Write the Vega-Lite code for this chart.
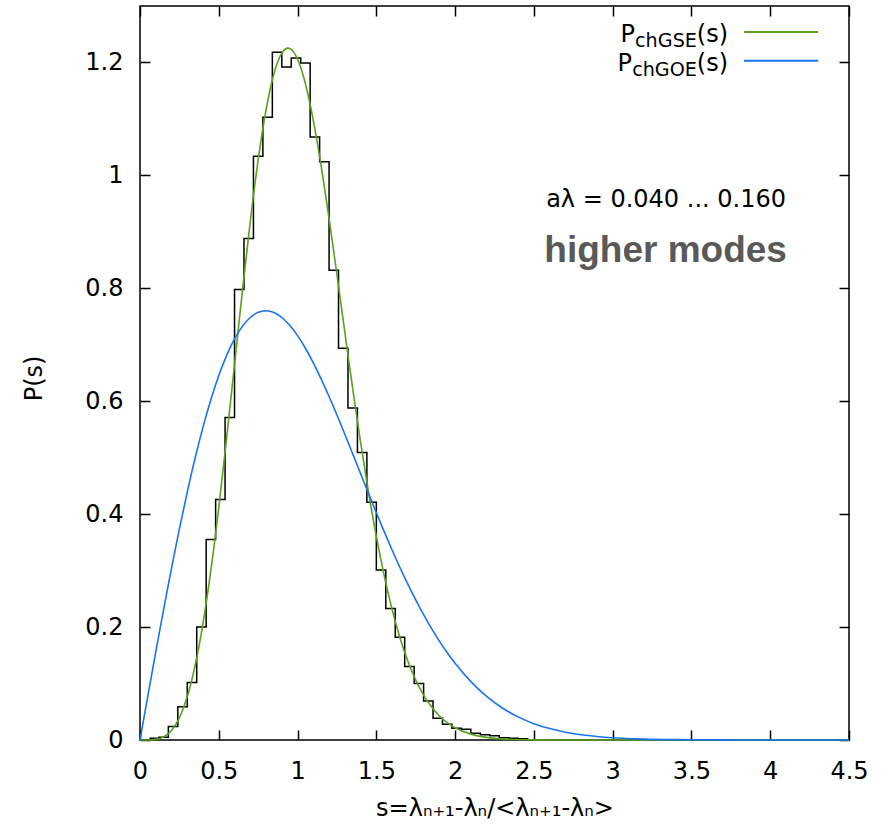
{
  "$schema": "https://vega.github.io/schema/vega-lite/v6.json",
  "width": 709,
  "height": 734,
  "autosize": "none",
  "padding": {"left": 140, "top": 6, "right": 41, "bottom": 89},
  "background": "white",
  "config": {
    "view": {"stroke": "#000", "strokeWidth": 1.5},
    "font": "DejaVu Sans",
    "axis": {
      "domain": false, "grid": false,
      "tickColor": "#000", "tickWidth": 1.5, "tickSize": -10,
      "labelFont": "DejaVu Sans", "labelFontSize": 24, "labelColor": "#000",
      "titleFont": "DejaVu Sans", "titleFontSize": 24, "titleFontWeight": "normal", "titleColor": "#000",
      "labelFlush": false, "labelOverlap": false, "labelBound": false
    }
  },
  "datasets": {
    "one": [{}],
    "hist": [
      {"s": 0.06, "p": 0.003}, {"s": 0.12, "p": 0.005}, {"s": 0.18, "p": 0.024}, {"s": 0.24, "p": 0.059},
      {"s": 0.30, "p": 0.102}, {"s": 0.36, "p": 0.200}, {"s": 0.42, "p": 0.355}, {"s": 0.48, "p": 0.426},
      {"s": 0.54, "p": 0.571}, {"s": 0.60, "p": 0.798}, {"s": 0.66, "p": 0.888}, {"s": 0.72, "p": 1.034},
      {"s": 0.78, "p": 1.103}, {"s": 0.84, "p": 1.218}, {"s": 0.90, "p": 1.192}, {"s": 0.96, "p": 1.208},
      {"s": 1.02, "p": 1.199}, {"s": 1.08, "p": 1.068}, {"s": 1.14, "p": 1.024}, {"s": 1.20, "p": 0.832},
      {"s": 1.26, "p": 0.694}, {"s": 1.32, "p": 0.588}, {"s": 1.38, "p": 0.509}, {"s": 1.44, "p": 0.421},
      {"s": 1.50, "p": 0.301}, {"s": 1.56, "p": 0.233}, {"s": 1.62, "p": 0.182}, {"s": 1.68, "p": 0.130},
      {"s": 1.74, "p": 0.100}, {"s": 1.80, "p": 0.069}, {"s": 1.86, "p": 0.0385}, {"s": 1.92, "p": 0.028},
      {"s": 1.98, "p": 0.021}, {"s": 2.04, "p": 0.019}, {"s": 2.10, "p": 0.012}, {"s": 2.16, "p": 0.0095},
      {"s": 2.22, "p": 0.0077}, {"s": 2.28, "p": 0.004}, {"s": 2.34, "p": 0.003}, {"s": 2.40, "p": 0.002},
      {"s": 2.46, "p": 0}
    ],
    "gse": [
      {"s": 0, "p": 0}, {"s": 0.05, "p": 0.0001}, {"s": 0.1, "p": 0.0011}, {"s": 0.15, "p": 0.0056},
      {"s": 0.2, "p": 0.0170}, {"s": 0.25, "p": 0.0393}, {"s": 0.3, "p": 0.0766}, {"s": 0.35, "p": 0.1319},
      {"s": 0.4, "p": 0.2067}, {"s": 0.45, "p": 0.3007}, {"s": 0.5, "p": 0.4116}, {"s": 0.55, "p": 0.5351},
      {"s": 0.6, "p": 0.6654}, {"s": 0.65, "p": 0.7956}, {"s": 0.7, "p": 0.9185}, {"s": 0.75, "p": 1.0273},
      {"s": 0.8, "p": 1.1158}, {"s": 0.85, "p": 1.1799}, {"s": 0.9, "p": 1.2164}, {"s": 0.94, "p": 1.2254},
      {"s": 0.95, "p": 1.2248}, {"s": 1.0, "p": 1.2058}, {"s": 1.05, "p": 1.1623}, {"s": 1.1, "p": 1.0976},
      {"s": 1.15, "p": 1.0163}, {"s": 1.2, "p": 0.9238}, {"s": 1.25, "p": 0.8242}, {"s": 1.3, "p": 0.7223},
      {"s": 1.35, "p": 0.6223}, {"s": 1.4, "p": 0.5272}, {"s": 1.45, "p": 0.4394}, {"s": 1.5, "p": 0.3605},
      {"s": 1.55, "p": 0.2911}, {"s": 1.6, "p": 0.2314}, {"s": 1.65, "p": 0.1811}, {"s": 1.7, "p": 0.1397},
      {"s": 1.75, "p": 0.1062}, {"s": 1.8, "p": 0.0795}, {"s": 1.85, "p": 0.0587}, {"s": 1.9, "p": 0.0426},
      {"s": 1.95, "p": 0.0306}, {"s": 2.0, "p": 0.0217}, {"s": 2.1, "p": 0.0104}, {"s": 2.2, "p": 0.0047},
      {"s": 2.3, "p": 0.0020}, {"s": 2.4, "p": 0.0008}, {"s": 2.5, "p": 0.0003}, {"s": 2.6, "p": 0.0001},
      {"s": 2.8, "p": 0}, {"s": 4.5, "p": 0}
    ],
    "goe": [
      {"s": 0, "p": 0}, {"s": 0.05, "p": 0.0784}, {"s": 0.1, "p": 0.1559}, {"s": 0.15, "p": 0.2315},
      {"s": 0.2, "p": 0.3044}, {"s": 0.25, "p": 0.3739}, {"s": 0.3, "p": 0.4391}, {"s": 0.35, "p": 0.4994},
      {"s": 0.4, "p": 0.5541}, {"s": 0.45, "p": 0.6029}, {"s": 0.5, "p": 0.6454}, {"s": 0.55, "p": 0.6812},
      {"s": 0.6, "p": 0.7104}, {"s": 0.65, "p": 0.7327}, {"s": 0.7, "p": 0.7483}, {"s": 0.75, "p": 0.7574},
      {"s": 0.8, "p": 0.7602}, {"s": 0.85, "p": 0.7570}, {"s": 0.9, "p": 0.7483}, {"s": 0.95, "p": 0.7345},
      {"s": 1.0, "p": 0.7162}, {"s": 1.05, "p": 0.6938}, {"s": 1.1, "p": 0.6680}, {"s": 1.15, "p": 0.6393},
      {"s": 1.2, "p": 0.6083}, {"s": 1.25, "p": 0.5755}, {"s": 1.3, "p": 0.5415}, {"s": 1.35, "p": 0.5068},
      {"s": 1.4, "p": 0.4718}, {"s": 1.45, "p": 0.4369}, {"s": 1.5, "p": 0.4025}, {"s": 1.55, "p": 0.3690},
      {"s": 1.6, "p": 0.3366}, {"s": 1.65, "p": 0.3055}, {"s": 1.7, "p": 0.2759}, {"s": 1.75, "p": 0.2480},
      {"s": 1.8, "p": 0.2219}, {"s": 1.85, "p": 0.1976}, {"s": 1.9, "p": 0.1752}, {"s": 1.95, "p": 0.1546},
      {"s": 2.0, "p": 0.1358}, {"s": 2.1, "p": 0.1033}, {"s": 2.2, "p": 0.0772}, {"s": 2.3, "p": 0.0567},
      {"s": 2.4, "p": 0.0409}, {"s": 2.5, "p": 0.0290}, {"s": 2.6, "p": 0.0202}, {"s": 2.7, "p": 0.0138},
      {"s": 2.8, "p": 0.0093}, {"s": 2.9, "p": 0.0062}, {"s": 3.0, "p": 0.0040}, {"s": 3.2, "p": 0.0016},
      {"s": 3.4, "p": 0.0006}, {"s": 3.6, "p": 0.0002}, {"s": 3.8, "p": 0.0001}, {"s": 4.0, "p": 0},
      {"s": 4.5, "p": 0}
    ]
  },
  "layer": [
    {
      "data": {"name": "hist"},
      "mark": {"type": "line", "interpolate": "step-after", "color": "#000", "strokeWidth": 1.5},
      "encoding": {
        "x": {"field": "s", "type": "quantitative",
          "scale": {"domain": [0, 4.5], "nice": false, "zero": false},
          "axis": {"orient": "bottom", "values": [0, 0.5, 1, 1.5, 2, 2.5, 3, 3.5, 4, 4.5], "format": "~g",
            "labelPadding": 48, "labelBaseline": "alphabetic", "labelAlign": "center",
            "title": "s=λₙ₊₁-λₙ/<λₙ₊₁-λₙ>", "titleY": 75, "titleBaseline": "alphabetic"}},
        "y": {"field": "p", "type": "quantitative",
          "scale": {"domain": [0, 1.3], "nice": false},
          "axis": {"orient": "left", "values": [0, 0.2, 0.4, 0.6, 0.8, 1, 1.2], "format": "~g",
            "labelPadding": 27, "title": "P(s)", "titleAngle": 270, "titleX": -99, "titleY": 372,
            "titleAlign": "center", "titleBaseline": "alphabetic"}}
      }
    },
    {
      "data": {"name": "gse"},
      "mark": {"type": "line", "interpolate": "monotone", "color": "#59a11f", "strokeWidth": 1.6},
      "encoding": {
        "x": {"field": "s", "type": "quantitative",
          "axis": {"orient": "top", "values": [0, 0.5, 1, 1.5, 2, 2.5, 3, 3.5, 4, 4.5], "labels": false, "title": null}},
        "y": {"field": "p", "type": "quantitative",
          "axis": {"orient": "right", "values": [0, 0.2, 0.4, 0.6, 0.8, 1, 1.2], "labels": false, "title": null}}
      }
    },
    {
      "data": {"name": "goe"},
      "mark": {"type": "line", "interpolate": "monotone", "color": "#1a73f2", "strokeWidth": 1.6},
      "encoding": {
        "x": {"field": "s", "type": "quantitative", "axis": null},
        "y": {"field": "p", "type": "quantitative", "axis": null}
      }
    },
    {
      "data": {"name": "one"},
      "mark": {"type": "rule", "color": "#59a11f", "strokeWidth": 2},
      "encoding": {
        "x": {"datum": 3.834, "type": "quantitative", "axis": null},
        "x2": {"datum": 4.304},
        "y": {"datum": 1.254, "type": "quantitative", "axis": null}
      }
    },
    {
      "data": {"name": "one"},
      "mark": {"type": "rule", "color": "#1a73f2", "strokeWidth": 2},
      "encoding": {
        "x": {"datum": 3.834, "type": "quantitative", "axis": null},
        "x2": {"datum": 4.304},
        "y": {"datum": 1.2031, "type": "quantitative", "axis": null}
      }
    },
    {
      "data": {"name": "one"},
      "mark": {"type": "text", "text": "P", "align": "right", "baseline": "alphabetic", "fontSize": 24, "font": "DejaVu Sans", "color": "#000"},
      "encoding": {
        "x": {"datum": 3.142, "type": "quantitative", "axis": null},
        "y": {"datum": 1.2368, "type": "quantitative", "axis": null}
      }
    },
    {
      "data": {"name": "one"},
      "mark": {"type": "text", "text": "chGSE", "align": "right", "baseline": "alphabetic", "fontSize": 19.2, "font": "DejaVu Sans", "color": "#000"},
      "encoding": {
        "x": {"datum": 3.535, "type": "quantitative", "axis": null},
        "y": {"datum": 1.228, "type": "quantitative", "axis": null}
      }
    },
    {
      "data": {"name": "one"},
      "mark": {"type": "text", "text": "(s)", "align": "right", "baseline": "alphabetic", "fontSize": 24, "font": "DejaVu Sans", "color": "#000"},
      "encoding": {
        "x": {"datum": 3.732, "type": "quantitative", "axis": null},
        "y": {"datum": 1.2368, "type": "quantitative", "axis": null}
      }
    },
    {
      "data": {"name": "one"},
      "mark": {"type": "text", "text": "P", "align": "right", "baseline": "alphabetic", "fontSize": 24, "font": "DejaVu Sans", "color": "#000"},
      "encoding": {
        "x": {"datum": 3.123, "type": "quantitative", "axis": null},
        "y": {"datum": 1.1849, "type": "quantitative", "axis": null}
      }
    },
    {
      "data": {"name": "one"},
      "mark": {"type": "text", "text": "chGOE", "align": "right", "baseline": "alphabetic", "fontSize": 19.2, "font": "DejaVu Sans", "color": "#000"},
      "encoding": {
        "x": {"datum": 3.535, "type": "quantitative", "axis": null},
        "y": {"datum": 1.1766, "type": "quantitative", "axis": null}
      }
    },
    {
      "data": {"name": "one"},
      "mark": {"type": "text", "text": "(s)", "align": "right", "baseline": "alphabetic", "fontSize": 24, "font": "DejaVu Sans", "color": "#000"},
      "encoding": {
        "x": {"datum": 3.732, "type": "quantitative", "axis": null},
        "y": {"datum": 1.1849, "type": "quantitative", "axis": null}
      }
    },
    {
      "data": {"name": "one"},
      "mark": {"type": "text", "text": "aλ = 0.040 ... 0.160", "align": "right", "baseline": "alphabetic", "fontSize": 24, "font": "DejaVu Sans", "color": "#000"},
      "encoding": {
        "x": {"datum": 4.1, "type": "quantitative", "axis": null},
        "y": {"datum": 0.9446, "type": "quantitative", "axis": null}
      }
    },
    {
      "data": {"name": "one"},
      "mark": {"type": "text", "text": "higher modes", "align": "right", "baseline": "alphabetic", "fontSize": 37, "font": "Liberation Sans", "fontWeight": "bold", "color": "#595959"},
      "encoding": {
        "x": {"datum": 4.106, "type": "quantitative", "axis": null},
        "y": {"datum": 0.8472, "type": "quantitative", "axis": null}
      }
    }
  ],
  "resolve": {"axis": {"x": "independent", "y": "independent"}}
}
